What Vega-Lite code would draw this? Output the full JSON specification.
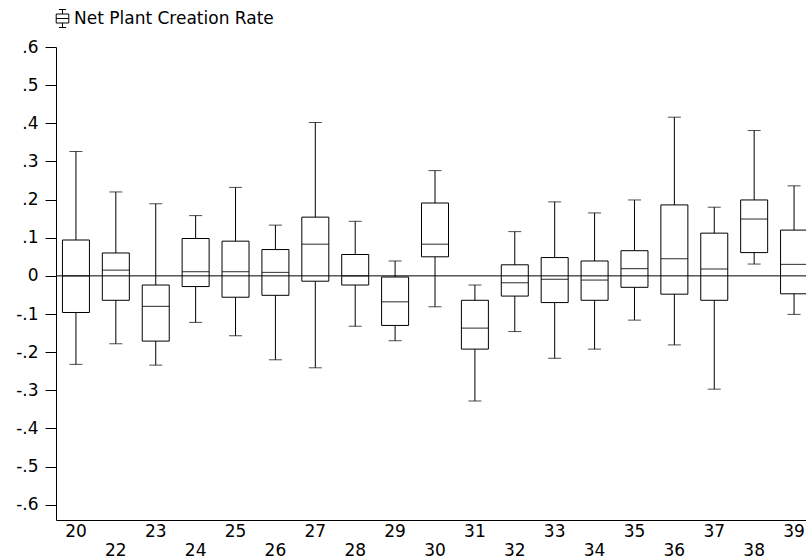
{
  "$schema": "https://vega.github.io/schema/vega-lite/v6.json",
  "width": 750,
  "height": 473,
  "autosize": {"type": "none"},
  "padding": {"left": 56, "top": 47, "right": 0, "bottom": 39},
  "background": "white",
  "config": {
    "view": {"stroke": null},
    "font": "DejaVu Sans",
    "axisX": {"ticks": false, "domainColor": "black", "domainWidth": 1, "labelColor": "black", "labelFont": "DejaVu Sans", "labelFontSize": 17, "labelAngle": 0, "labelPadding": 3, "labelLineHeight": 19, "labelOverlap": false, "labelBound": false, "labelFlush": false, "grid": false, "title": null},
    "axisY": {"tickSize": 11, "tickColor": "black", "tickWidth": 1, "domainColor": "black", "domainWidth": 1, "labelColor": "black", "labelFont": "DejaVu Sans", "labelFontSize": 17, "labelPadding": 7, "grid": false, "title": null, "labelOverlap": false, "labelBound": false, "labelFlush": false}
  },
  "data": {"values": [
    {"g": "20", "lo": -0.232, "q1": -0.096, "med": 0.000, "q3": 0.094, "hi": 0.326},
    {"g": "22", "lo": -0.178, "q1": -0.064, "med": 0.015, "q3": 0.060, "hi": 0.220},
    {"g": "23", "lo": -0.234, "q1": -0.171, "med": -0.080, "q3": -0.024, "hi": 0.189},
    {"g": "24", "lo": -0.122, "q1": -0.028, "med": 0.011, "q3": 0.098, "hi": 0.158},
    {"g": "25", "lo": -0.157, "q1": -0.056, "med": 0.011, "q3": 0.091, "hi": 0.232},
    {"g": "26", "lo": -0.220, "q1": -0.051, "med": 0.009, "q3": 0.069, "hi": 0.133},
    {"g": "27", "lo": -0.241, "q1": -0.014, "med": 0.083, "q3": 0.154, "hi": 0.402},
    {"g": "28", "lo": -0.132, "q1": -0.024, "med": 0.000, "q3": 0.056, "hi": 0.143},
    {"g": "29", "lo": -0.170, "q1": -0.130, "med": -0.068, "q3": -0.003, "hi": 0.039},
    {"g": "30", "lo": -0.081, "q1": 0.050, "med": 0.083, "q3": 0.191, "hi": 0.276},
    {"g": "31", "lo": -0.328, "q1": -0.192, "med": -0.137, "q3": -0.064, "hi": -0.024},
    {"g": "32", "lo": -0.146, "q1": -0.053, "med": -0.018, "q3": 0.029, "hi": 0.116},
    {"g": "33", "lo": -0.216, "q1": -0.070, "med": -0.009, "q3": 0.048, "hi": 0.194},
    {"g": "34", "lo": -0.192, "q1": -0.064, "med": -0.011, "q3": 0.039, "hi": 0.165},
    {"g": "35", "lo": -0.116, "q1": -0.030, "med": 0.019, "q3": 0.066, "hi": 0.199},
    {"g": "36", "lo": -0.181, "q1": -0.048, "med": 0.045, "q3": 0.186, "hi": 0.416},
    {"g": "37", "lo": -0.297, "q1": -0.064, "med": 0.018, "q3": 0.112, "hi": 0.180},
    {"g": "38", "lo": 0.031, "q1": 0.061, "med": 0.149, "q3": 0.199, "hi": 0.381},
    {"g": "39", "lo": -0.101, "q1": -0.047, "med": 0.030, "q3": 0.120, "hi": 0.236}
  ]},
  "layer": [
    {
      "data": {"values": [{"z": 0}]},
      "mark": {"type": "rule", "color": "black", "strokeWidth": 1},
      "encoding": {
        "y": {"field": "z", "type": "quantitative",
              "scale": {"domain": [-0.64, 0.6], "nice": false, "zero": false},
              "axis": {"title": null, "values": [-0.6, -0.5, -0.4, -0.3, -0.2, -0.1, 0, 0.1, 0.2, 0.3, 0.4, 0.5, 0.6], "tickCount": 13,
                       "labelExpr": "datum.value == 0 ? '0' : (datum.value < 0 ? '-' : '') + '.' + round(abs(datum.value) * 10)"}}
      }
    },
    {
      "mark": {"type": "rule", "color": "black", "strokeWidth": 1},
      "encoding": {
        "x": {"field": "g", "type": "nominal", "sort": null,
              "scale": {"range": [0, 758], "paddingInner": 0, "paddingOuter": 0},
              "axis": {"title": null, "labelExpr": "(toNumber(datum.value) % 2 == 0 && datum.value != '20') ? [' ', datum.label] : datum.label"}},
        "y": {"field": "q3", "type": "quantitative",
              "axis": {"title": null, "values": [-0.6, -0.5, -0.4, -0.3, -0.2, -0.1, 0, 0.1, 0.2, 0.3, 0.4, 0.5, 0.6], "tickCount": 13,
                       "labelExpr": "datum.value == 0 ? '0' : (datum.value < 0 ? '-' : '') + '.' + round(abs(datum.value) * 10)"}},
        "y2": {"field": "hi"}
      }
    },
    {
      "mark": {"type": "rule", "color": "black", "strokeWidth": 1},
      "encoding": {
        "x": {"field": "g", "type": "nominal", "sort": null},
        "y": {"field": "lo", "type": "quantitative",
              "axis": {"title": null, "values": [-0.6, -0.5, -0.4, -0.3, -0.2, -0.1, 0, 0.1, 0.2, 0.3, 0.4, 0.5, 0.6], "tickCount": 13,
                       "labelExpr": "datum.value == 0 ? '0' : (datum.value < 0 ? '-' : '') + '.' + round(abs(datum.value) * 10)"}},
        "y2": {"field": "q1"}
      }
    },
    {
      "mark": {"type": "tick", "size": 13, "thickness": 1, "color": "black"},
      "encoding": {
        "x": {"field": "g", "type": "nominal", "sort": null},
        "y": {"field": "hi", "type": "quantitative",
              "axis": {"title": null, "values": [-0.6, -0.5, -0.4, -0.3, -0.2, -0.1, 0, 0.1, 0.2, 0.3, 0.4, 0.5, 0.6], "tickCount": 13,
                       "labelExpr": "datum.value == 0 ? '0' : (datum.value < 0 ? '-' : '') + '.' + round(abs(datum.value) * 10)"}}
      }
    },
    {
      "mark": {"type": "tick", "size": 13, "thickness": 1, "color": "black"},
      "encoding": {
        "x": {"field": "g", "type": "nominal", "sort": null},
        "y": {"field": "lo", "type": "quantitative",
              "axis": {"title": null, "values": [-0.6, -0.5, -0.4, -0.3, -0.2, -0.1, 0, 0.1, 0.2, 0.3, 0.4, 0.5, 0.6], "tickCount": 13,
                       "labelExpr": "datum.value == 0 ? '0' : (datum.value < 0 ? '-' : '') + '.' + round(abs(datum.value) * 10)"}}
      }
    },
    {
      "mark": {"type": "bar", "size": 27, "fill": "transparent", "stroke": "black", "strokeWidth": 1},
      "encoding": {
        "x": {"field": "g", "type": "nominal", "sort": null},
        "y": {"field": "q1", "type": "quantitative",
              "axis": {"title": null, "values": [-0.6, -0.5, -0.4, -0.3, -0.2, -0.1, 0, 0.1, 0.2, 0.3, 0.4, 0.5, 0.6], "tickCount": 13,
                       "labelExpr": "datum.value == 0 ? '0' : (datum.value < 0 ? '-' : '') + '.' + round(abs(datum.value) * 10)"}},
        "y2": {"field": "q3"}
      }
    },
    {
      "mark": {"type": "tick", "size": 27, "thickness": 1.2, "color": "black"},
      "encoding": {
        "x": {"field": "g", "type": "nominal", "sort": null},
        "y": {"field": "med", "type": "quantitative",
              "axis": {"title": null, "values": [-0.6, -0.5, -0.4, -0.3, -0.2, -0.1, 0, 0.1, 0.2, 0.3, 0.4, 0.5, 0.6], "tickCount": 13,
                       "labelExpr": "datum.value == 0 ? '0' : (datum.value < 0 ? '-' : '') + '.' + round(abs(datum.value) * 10)"}}
      }
    },
    {
      "mark": {"type": "point", "opacity": 0},
      "encoding": {
        "x": {"field": "g", "type": "nominal", "sort": null},
        "y": {"field": "med", "type": "quantitative",
              "axis": {"title": null, "values": [-0.6, -0.5, -0.4, -0.3, -0.2, -0.1, 0, 0.1, 0.2, 0.3, 0.4, 0.5, 0.6], "tickCount": 13,
                       "labelExpr": "datum.value == 0 ? '0' : (datum.value < 0 ? '-' : '') + '.' + round(abs(datum.value) * 10)"}},
        "shape": {"datum": "Net Plant Creation Rate",
                  "scale": {"range": ["M-0.4,-1H0.4M0,-1V-0.5M-0.7,-0.5H0.7V0.5H-0.7ZM-0.7,0H0.7M0,0.5V1M-0.4,1H0.4"]},
                  "legend": {"title": null, "orient": "none", "legendX": -3, "legendY": -38, "padding": 0,
                             "symbolSize": 324, "symbolOpacity": 1, "symbolStrokeColor": "black", "symbolFillColor": "white", "symbolStrokeWidth": 1,
                             "labelFont": "DejaVu Sans", "labelFontSize": 17, "labelColor": "black", "labelLimit": 400, "labelOffset": 2}}
      }
    }
  ]
}
